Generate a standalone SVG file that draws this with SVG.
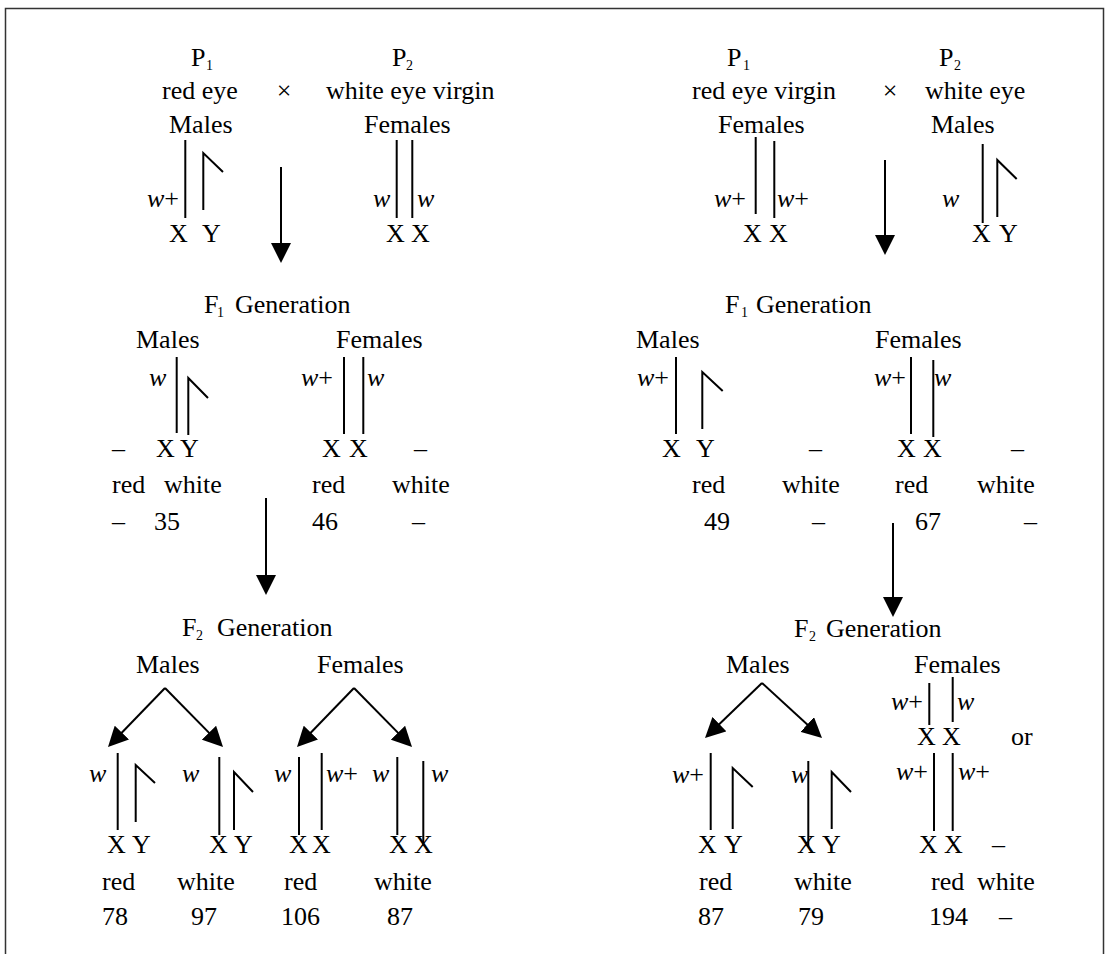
<svg xmlns="http://www.w3.org/2000/svg" width="1109" height="954" viewBox="0 0 1109 954">
<style>
text{font-family:'Liberation Serif','DejaVu Serif',serif;font-size:26px;fill:#000}
.sub{font-size:14px}
.i{font-style:italic}
.mid{text-anchor:middle}
.chr{fill:none;stroke:#000;stroke-width:2}
.arr{fill:none;stroke:#000;stroke-width:2;marker-end:url(#ah)}
</style>
<defs>
<marker id="ah" markerUnits="userSpaceOnUse" markerWidth="20" markerHeight="20" refX="10" refY="10" orient="auto" viewBox="0 0 20 20">
<path d="M0,0 L20,10 L0,20 z" fill="#000"/>
</marker>
</defs>
<rect x="5.5" y="8.5" width="1098" height="1000" fill="#fff" stroke="#333" stroke-width="1.5"/>
<g font-family="Liberation Serif, serif">

<!-- LEFT CROSS: P generation -->
<g id="left-p1">
<text x="191" y="66">P</text><text class="sub" x="206" y="70">1</text>
<text x="162" y="99">red eye</text>
<text x="169" y="133">Males</text>
<path class="chr" d="M185.3,140V218"/>
<path class="chr" d="M203.3,210V153L223,172"/>
<text x="147" y="207"><tspan class="i">w</tspan>+</text>
<text y="242"><tspan x="169">X</tspan><tspan x="202">Y</tspan></text>
</g>
<g id="left-cross"><text class="mid" x="284" y="99">×</text></g>
<g id="left-p2">
<text x="392" y="66">P</text><text class="sub" x="406" y="70">2</text>
<text x="326" y="99">white eye virgin</text>
<text x="364" y="133">Females</text>
<path class="chr" d="M396.7,140V218M412.3,140V218"/>
<text class="i" x="373" y="207">w</text>
<text class="i" x="417" y="207">w</text>
<text y="242"><tspan x="386">X</tspan><tspan x="411">X</tspan></text>
</g>

<!-- LEFT F1 -->
<g id="left-f1-title">
<text x="204" y="313">F</text><text class="sub" x="217" y="317">1</text><text x="235" y="313">Generation</text>
</g>
<g id="left-f1-males">
<text x="136" y="348">Males</text>
<path class="chr" d="M176.7,357V433"/>
<path class="chr" d="M188.3,435V378L208,398"/>
<text class="i" x="149" y="386">w</text>
<text x="112" y="457">–</text>
<text y="457"><tspan x="156">X</tspan><tspan x="180">Y</tspan></text>
<text x="112" y="493">red</text><text x="164" y="493">white</text>
<text x="112" y="530">–</text><text x="154" y="530">35</text>
</g>
<g id="left-f1-females">
<text x="336" y="348">Females</text>
<path class="chr" d="M344,357V434M363.3,357V434"/>
<text x="301" y="386"><tspan class="i">w</tspan>+</text>
<text class="i" x="367" y="386">w</text>
<text y="457"><tspan x="322">X</tspan><tspan x="349">X</tspan></text>
<text x="414" y="457">–</text>
<text x="312" y="493">red</text><text x="392" y="493">white</text>
<text x="312" y="530">46</text><text x="412" y="530">–</text>
</g>

<!-- LEFT F2 -->
<g id="left-f2-title">
<text x="182" y="636">F</text><text class="sub" x="196" y="640">2</text><text x="217" y="636">Generation</text>
</g>
<g id="left-f2-males">
<text x="136" y="673">Males</text>
<path class="chr" d="M117.7,753V830"/>
<path class="chr" d="M135.7,822V765L155,783"/>
<text class="i" x="89" y="782">w</text>
<text y="853"><tspan x="107">X</tspan><tspan x="132">Y</tspan></text>
<path class="chr" d="M219.3,757V835"/>
<path class="chr" d="M234,830V772L253,792"/>
<text class="i" x="182" y="782">w</text>
<text y="853"><tspan x="209">X</tspan><tspan x="234">Y</tspan></text>
<text x="102" y="890">red</text><text x="177" y="890">white</text>
<text x="102" y="925">78</text><text x="191" y="925">97</text>
</g>
<g id="left-f2-females">
<text x="317" y="673">Females</text>
<path class="chr" d="M299,757V835M321.7,753V830"/>
<text class="i" x="274" y="782">w</text>
<text x="326" y="782"><tspan class="i">w</tspan>+</text>
<text y="853"><tspan x="289">X</tspan><tspan x="312">X</tspan></text>
<path class="chr" d="M397.3,757V835M423.3,761V845"/>
<text class="i" x="372" y="782">w</text>
<text class="i" x="431" y="782">w</text>
<text y="853"><tspan x="389">X</tspan><tspan x="414">X</tspan></text>
<text x="284" y="890">red</text><text x="374" y="890">white</text>
<text x="281" y="925">106</text><text x="387" y="925">87</text>
</g>

<!-- RIGHT CROSS: P generation -->
<g id="right-p1">
<text x="727" y="66">P</text><text class="sub" x="743" y="70">1</text>
<text x="692" y="99">red eye virgin</text>
<text x="718" y="133">Females</text>
<path class="chr" d="M755.7,137V214M774.3,141V218"/>
<text x="714" y="207"><tspan class="i">w</tspan>+</text>
<text x="777" y="207"><tspan class="i">w</tspan>+</text>
<text y="242"><tspan x="743">X</tspan><tspan x="769">X</tspan></text>
</g>
<g id="right-cross"><text class="mid" x="890" y="99">×</text></g>
<g id="right-p2">
<text x="939" y="66">P</text><text class="sub" x="954" y="70">2</text>
<text x="925" y="99">white eye</text>
<text x="931" y="133">Males</text>
<path class="chr" d="M982.7,144V223"/>
<path class="chr" d="M997.3,217V160L1016.7,179"/>
<text class="i" x="942" y="207">w</text>
<text y="242"><tspan x="972">X</tspan><tspan x="999">Y</tspan></text>
</g>

<!-- RIGHT F1 -->
<g id="right-f1-title">
<text x="725" y="313">F</text><text class="sub" x="741" y="317">1</text><text x="756" y="313">Generation</text>
</g>
<g id="right-f1-males">
<text x="636" y="348">Males</text>
<path class="chr" d="M676,357V434"/>
<path class="chr" d="M702.3,429V372L722.7,391"/>
<text x="637" y="386"><tspan class="i">w</tspan>+</text>
<text y="457"><tspan x="662">X</tspan><tspan x="696">Y</tspan></text>
<text x="809" y="457">–</text>
<text x="692" y="493">red</text><text x="782" y="493">white</text>
<text x="704" y="530">49</text><text x="812" y="530">–</text>
</g>
<g id="right-f1-females">
<text x="875" y="348">Females</text>
<path class="chr" d="M911,357V434M933.3,360V437"/>
<text x="874" y="386"><tspan class="i">w</tspan>+</text>
<text class="i" x="934" y="386">w</text>
<text y="457"><tspan x="897">X</tspan><tspan x="923">X</tspan></text>
<text x="1011" y="457">–</text>
<text x="895" y="493">red</text><text x="977" y="493">white</text>
<text x="915" y="530">67</text><text x="1024" y="530">–</text>
</g>

<!-- RIGHT F2 -->
<g id="right-f2-title">
<text x="794" y="637">F</text><text class="sub" x="809" y="641">2</text><text x="826" y="637">Generation</text>
</g>
<g id="right-f2-males">
<text x="726" y="673">Males</text>
<path class="chr" d="M710.7,753V830"/>
<path class="chr" d="M732.7,829V768L752.7,787"/>
<text x="672" y="783"><tspan class="i">w</tspan>+</text>
<text y="853"><tspan x="698">X</tspan><tspan x="724">Y</tspan></text>
<path class="chr" d="M808.3,761V847"/>
<path class="chr" d="M831.7,829V772L851,792"/>
<text class="i" x="791" y="783">w</text>
<text y="853"><tspan x="797">X</tspan><tspan x="822">Y</tspan></text>
<text x="699" y="890">red</text><text x="794" y="890">white</text>
<text x="698" y="925">87</text><text x="798" y="925">79</text>
</g>
<g id="right-f2-females">
<text x="914" y="673">Females</text>
<path class="chr" d="M929.3,683V725M952.7,677V722"/>
<text x="891" y="710"><tspan class="i">w</tspan>+</text>
<text class="i" x="957" y="710">w</text>
<text y="745"><tspan x="917">X</tspan><tspan x="942">X</tspan></text>
<text x="1011" y="745">or</text>
<path class="chr" d="M934,753V831M952.7,753V831"/>
<text x="896" y="780"><tspan class="i">w</tspan>+</text>
<text x="958" y="780"><tspan class="i">w</tspan>+</text>
<text y="853"><tspan x="919">X</tspan><tspan x="944">X</tspan></text>
<text x="992" y="853">–</text>
<text x="931" y="890">red</text><text x="977" y="890">white</text>
<text x="929" y="925">194</text><text x="999" y="925">–</text>
</g>
</g>

<g id="connectors">
<path class="arr" d="M281,167V253"/>
<path class="arr" d="M885,160V245"/>
<path class="arr" d="M266,498V585"/>
<path class="arr" d="M893,523V607"/>
<path class="arr" d="M165,688L114.95,739.81"/>
<path class="arr" d="M165,688L215.99,739.87"/>
<path class="arr" d="M354,688L303.95,739.81"/>
<path class="arr" d="M354,688L404.99,739.87"/>
<path class="arr" d="M762,683L712.2,731.06"/>
<path class="arr" d="M762,683L814.63,731.24"/>
</g>
</svg>
